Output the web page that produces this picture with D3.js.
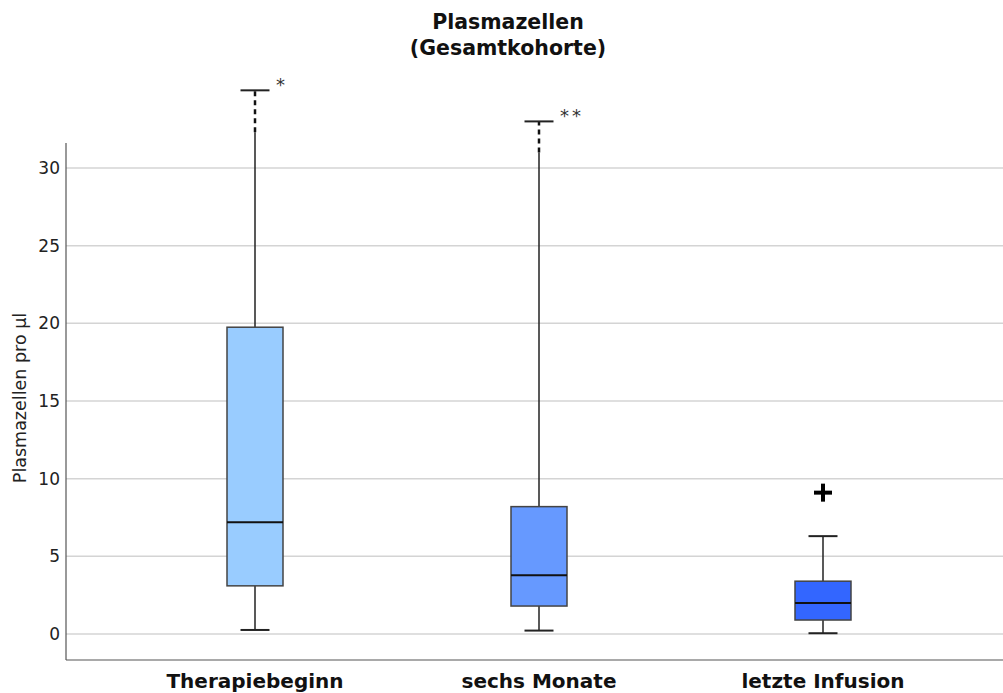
<!DOCTYPE html>
<html>
<head>
<meta charset="utf-8">
<script src="https://cdn.jsdelivr.net/npm/d3@7"></script>
<style>
body { margin: 0; background: #fff; }
svg { display: block; font-family: "DejaVu Sans", sans-serif; }
</style>
</head>
<body>
<div id="chart"></div>
<script>
// ---- data ----
const categories = ["Therapiebeginn", "sechs Monate", "letzte Infusion"];
const whiskerLow = [0.26, 0.22, 0.05];
const q1 = [3.1, 1.8, 0.9];
const median = [7.2, 3.78, 2.0];
const q3 = [19.75, 8.2, 3.4];
const whiskerHigh = [35.0, 33.0, 6.3];
const dashedAbove = [32.3, 31.0, null];   // whisker drawn dashed above this value
const extremeMarks = ["*", "**", null];    // extreme markers at whisker top
const outliers = [[], [], [9.1]];           // "+" outlier markers
const yTicks = [0, 5, 10, 15, 20, 25, 30];
const colors = ["#99ccff", "#6699ff", "#3366ff"];
const titleLines = ["Plasmazellen", "(Gesamtkohorte)"];
const yLabel = "Plasmazellen pro µl";

// ---- layout ----
const W = 1003, H = 693;
const axisX = 66, axisBottom = 660, axisTop = 143, rightX = 1003;

const svg = d3.select("#chart").append("svg").attr("width", W).attr("height", H);

const y = d3.scaleLinear().domain([0, 30]).range([634, 168]);
const x = d3.scalePoint().domain(categories).range([255, 823]);
const boxW = 56, capW = 29;

// gridlines
svg.append("g").selectAll("line").data(yTicks).join("line")
  .attr("x1", axisX).attr("x2", rightX)
  .attr("y1", d => y(d)).attr("y2", d => y(d))
  .attr("stroke", "#d4d4d4").attr("stroke-width", 1.5);

// y axis (ticks text only)
const yAxis = d3.axisLeft(y).tickValues(yTicks).tickSize(0).tickPadding(6);
const gy = svg.append("g").attr("transform", `translate(${axisX},0)`).call(yAxis);
gy.select(".domain").remove();
gy.selectAll("text").attr("font-size", 17).attr("fill", "#222")
  .attr("font-family", "DejaVu Sans, sans-serif");

// axis lines
svg.append("line").attr("x1", axisX).attr("x2", axisX).attr("y1", axisTop).attr("y2", axisBottom)
  .attr("stroke", "#555").attr("stroke-width", 1.2);
svg.append("line").attr("x1", axisX).attr("x2", rightX).attr("y1", axisBottom).attr("y2", axisBottom)
  .attr("stroke", "#555").attr("stroke-width", 1.2);

// boxes
const data = categories.map((c, i) => ({
  c, i, lo: whiskerLow[i], q1: q1[i], med: median[i], q3: q3[i], hi: whiskerHigh[i],
  dash: dashedAbove[i], mark: extremeMarks[i], out: outliers[i], color: colors[i]
}));

const g = svg.append("g").selectAll("g").data(data).join("g");

// lower whisker
g.append("line").attr("x1", d => x(d.c)).attr("x2", d => x(d.c))
  .attr("y1", d => y(d.q1)).attr("y2", d => y(d.lo))
  .attr("stroke", "#222").attr("stroke-width", 1.5);
// upper whisker solid part
g.append("line").attr("x1", d => x(d.c)).attr("x2", d => x(d.c))
  .attr("y1", d => y(d.q3)).attr("y2", d => y(d.dash != null ? d.dash : d.hi))
  .attr("stroke", "#222").attr("stroke-width", 1.5);
// upper whisker dashed part
g.filter(d => d.dash != null).append("line")
  .attr("x1", d => x(d.c)).attr("x2", d => x(d.c))
  .attr("y1", d => y(d.dash)).attr("y2", d => y(d.hi))
  .attr("stroke", "#111").attr("stroke-width", 2.5).attr("stroke-dasharray", "5,4");
// caps
g.selectAll(".cap").data(d => [{d, v: d.lo}, {d, v: d.hi}]).join("line")
  .attr("x1", e => x(e.d.c) - capW / 2).attr("x2", e => x(e.d.c) + capW / 2)
  .attr("y1", e => y(e.v)).attr("y2", e => y(e.v))
  .attr("stroke", "#222").attr("stroke-width", 2);
// box
g.append("rect").attr("x", d => x(d.c) - boxW / 2).attr("width", boxW)
  .attr("y", d => y(d.q3)).attr("height", d => y(d.q1) - y(d.q3))
  .attr("fill", d => d.color).attr("stroke", "#444").attr("stroke-width", 1.5);
// median
g.append("line").attr("x1", d => x(d.c) - boxW / 2).attr("x2", d => x(d.c) + boxW / 2)
  .attr("y1", d => y(d.med)).attr("y2", d => y(d.med))
  .attr("stroke", "#111").attr("stroke-width", 2);
// extreme markers
g.filter(d => d.mark).append("text")
  .attr("x", d => x(d.c) + 21).attr("y", d => y(d.hi) + 1)
  .attr("font-size", 18).attr("fill", "#333").attr("letter-spacing", 3)
  .text(d => d.mark);
// outliers "+"
g.selectAll(".out").data(d => d.out.map(v => ({d, v}))).join("g")
  .attr("transform", e => `translate(${x(e.d.c)},${y(e.v)})`)
  .call(s => {
    s.append("line").attr("x1", -9).attr("x2", 9).attr("y1", 0).attr("y2", 0)
      .attr("stroke", "#000").attr("stroke-width", 4);
    s.append("line").attr("x1", 0).attr("x2", 0).attr("y1", -9).attr("y2", 9)
      .attr("stroke", "#000").attr("stroke-width", 4);
  });

// x labels
svg.append("g").selectAll("text").data(categories).join("text")
  .attr("x", d => x(d)).attr("y", 688).attr("text-anchor", "middle")
  .attr("font-size", 20).attr("font-weight", "bold").attr("fill", "#111")
  .text(d => d);

// y label
svg.append("text").attr("transform", "translate(26,398) rotate(-90)")
  .attr("text-anchor", "middle").attr("font-size", 17.5).attr("fill", "#222")
  .text(yLabel);

// title
svg.append("g").selectAll("text").data(titleLines).join("text")
  .attr("x", 508).attr("y", (d, i) => 29 + i * 26).attr("text-anchor", "middle")
  .attr("font-size", 20.5).attr("font-weight", "bold").attr("fill", "#111")
  .text(d => d);
</script>
</body>
</html>
